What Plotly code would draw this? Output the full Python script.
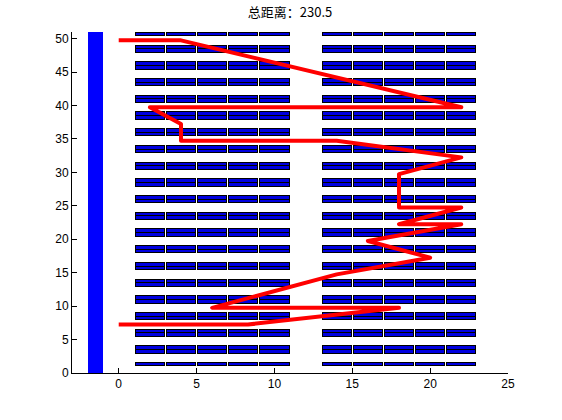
import plotly.graph_objects as go

# ---- data ----
title_text = "总距离：230.5"
cell_x_starts = [1, 3, 5, 7, 9, 13, 15, 17, 19, 21]
cell_width = 2.0
# double-deep shelf rows: centre lines
row_centres = [3.5, 6.0, 8.5, 11.0, 13.5, 16.0, 18.5, 21.0, 23.5, 26.0,
               28.5, 31.0, 33.5, 36.0, 38.5, 41.0, 43.5, 46.0, 48.5]
single_rows = [(1.0, 1.625), (50.375, 51.0)]
half_depth = 0.625
depot_x = [-2, -1]
depot_y = [0, 51]
path_x = [0, 4, 22, 2, 4, 4, 14, 22, 18, 18, 22, 18, 22, 16, 20, 14, 6, 18, 8.3, 0]
path_y = [49.75, 49.75, 39.75, 39.75, 37.25, 34.75, 34.75, 32.25, 29.75, 24.75,
          24.75, 22.25, 22.25, 19.75, 17.25, 14.75, 9.75, 9.75, 7.25, 7.25]
x_ticks = [0, 5, 10, 15, 20, 25]
y_ticks = [0, 5, 10, 15, 20, 25, 30, 35, 40, 45, 50]

# ---- build shelf cells: black outer block, blue inner sub-cells ----
px_x = 436 / 28.0   # pixels per x unit
px_y = 341 / 51.0   # pixels per y unit
gx = 0.5 / px_x     # half white gap between neighbouring cells
ex = 1.0 / px_x     # black edge width (x)
ey = 1.0 / px_y     # black edge width (y)

blocks = [(c - half_depth, c + half_depth, True) for c in row_centres]
blocks += [(a, b, False) for (a, b) in single_rows]

def rect(xs, ys, a, b, y0, y1):
    xs += [a, b, b, a, a, None]
    ys += [y0, y0, y1, y1, y0, None]

bx, by, ix, iy = [], [], [], []
for (y0, y1, double) in blocks:
    for x0 in cell_x_starts:
        a, b = x0 + gx, x0 + cell_width - gx
        rect(bx, by, a, b, y0, y1)
        if double:
            mid = (y0 + y1) / 2
            rect(ix, iy, a + ex, b - ex, y0 + ey, mid - ey / 2)
            rect(ix, iy, a + ex, b - ex, mid + ey / 2, y1 - ey)
        else:
            rect(ix, iy, a + ex, b - ex, y0 + ey, y1 - ey)

fig = go.Figure()
fig.add_trace(go.Scatter(
    x=[depot_x[0], depot_x[1], depot_x[1], depot_x[0], depot_x[0]],
    y=[depot_y[0], depot_y[0], depot_y[1], depot_y[1], depot_y[0]],
    mode="lines", fill="toself", fillcolor="#0000ff",
    line=dict(color="#0000ff", width=0), hoverinfo="skip", showlegend=False))
fig.add_trace(go.Scatter(
    x=bx, y=by, mode="lines", fill="toself", fillcolor="black",
    line=dict(color="black", width=0), hoverinfo="skip", showlegend=False))
fig.add_trace(go.Scatter(
    x=ix, y=iy, mode="lines", fill="toself", fillcolor="#0000e0",
    line=dict(color="#0000e0", width=0), hoverinfo="skip", showlegend=False))
fig.add_trace(go.Scatter(
    x=path_x, y=path_y, mode="lines",
    line=dict(color="#ff0000", width=4), showlegend=False))

axis_common = dict(showgrid=False, zeroline=False, showline=True,
                   linecolor="black", linewidth=1, ticks="inside",
                   ticklen=5, tickcolor="black", mirror=False,
                   tickfont=dict(family="Liberation Sans, Arial", size=12, color="black"))
fig.update_xaxes(range=[-3, 25], tickvals=x_ticks, **axis_common)
fig.update_yaxes(range=[0, 51], tickvals=y_ticks, **axis_common)

fig.update_layout(
    width=562, height=420, autosize=False,
    margin=dict(l=72, r=54, t=32, b=47),
    paper_bgcolor="white", plot_bgcolor="white",
    title=dict(text=title_text, x=0.5, xref="paper", xanchor="center",
               y=1 - 12 / 420, yref="container", yanchor="middle",
               font=dict(family="Noto Sans CJK SC", size=13, color="black")),
)
js = (
    "document.body.style.margin='0';document.body.style.overflow='hidden';"
    "var tr=document.querySelectorAll('.scatterlayer .trace');"
    "for(var i=0;i<tr.length-1;i++){tr[i].querySelectorAll('path').forEach(function(p){p.style.shapeRendering='crispEdges';});}"
    "if(tr.length){tr[tr.length-1].querySelectorAll('path').forEach(function(p){p.style.strokeLinejoin='round';});}"
)
fig.write_html("out.html", post_script=js, config={"displayModeBar": False})
